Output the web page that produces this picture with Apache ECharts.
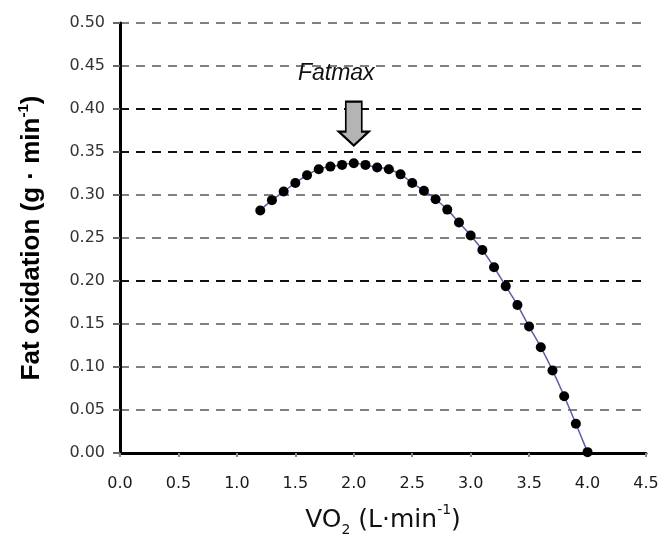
<!DOCTYPE html>
<html>
<head>
<meta charset="utf-8">
<title>Fat oxidation vs VO2</title>
<script src="https://cdn.jsdelivr.net/npm/echarts@6/dist/echarts.min.js"></script>
<style>
  html, body { margin: 0; padding: 0; background: #ffffff; }
  #chart { width: 662px; height: 542px; }
</style>
</head>
<body>
<div id="chart"></div>
<script>
// Oxygen uptake (L/min) at each measurement step
const vo2 = [1.2, 1.3, 1.4, 1.5, 1.6, 1.7, 1.8, 1.9, 2.0, 2.1, 2.2, 2.3, 2.4, 2.5, 2.6,
             2.7, 2.8, 2.9, 3.0, 3.1, 3.2, 3.3, 3.4, 3.5, 3.6, 3.7, 3.8, 3.9, 4.0];
// Fat oxidation rate (g/min) at each step
const fatOx = [0.282, 0.294, 0.304, 0.314, 0.323, 0.330, 0.333, 0.335, 0.337, 0.335,
               0.332, 0.330, 0.324, 0.314, 0.305, 0.295, 0.283, 0.268, 0.253, 0.236,
               0.216, 0.194, 0.172, 0.147, 0.123, 0.096, 0.066, 0.034, 0.001];
// Axis ranges and tick steps
const xMin = 0, xMax = 4.5, xStep = 0.5;
const yMin = 0, yMax = 0.5, yStep = 0.05;
// Fatmax annotation: arrow centre and label anchor, in data units
const fatmaxArrow = [2.0, 0.383];
const fatmaxLabel = [1.85, 0.441];
const fatmaxText = 'Fatmax';

const points = vo2.map((x, i) => [x, fatOx[i]]);

// Gridline colours alternate between grey and black (index = tick from 0.00)
const gridColors = ['#808080', '#808080', '#808080', '#808080', '#111111', '#808080',
                    '#808080', '#111111', '#111111', '#808080', '#808080'];

const chart = echarts.init(document.getElementById('chart'), null, { renderer: 'canvas' });

chart.setOption({
  animation: false,
  backgroundColor: '#ffffff',
  grid: { left: 120, right: 16, top: 23, bottom: 88, containLabel: false },
  xAxis: {
    type: 'value',
    min: xMin, max: xMax, interval: xStep,
    axisLine: { show: true, onZero: false, lineStyle: { color: '#000', width: 3 } },
    axisTick: { show: true, length: 4, lineStyle: { color: '#888', width: 2 } },
    splitLine: { show: false },
    axisLabel: {
      margin: 23,
      color: '#1a1a1a',
      fontFamily: 'DejaVu Sans',
      fontSize: 16,
      formatter: v => v.toFixed(1)
    },
    name: '{t|VO}{sub|2}{t| (L·min}{sup|-1}{t|)}',
    nameLocation: 'middle',
    nameGap: 50,
    nameTextStyle: {
      rich: {
        t: { fontFamily: 'DejaVu Sans', fontSize: 25, color: '#111', lineHeight: 34, verticalAlign: 'middle' },
        sub: { fontFamily: 'DejaVu Sans', fontSize: 14, color: '#111', verticalAlign: 'bottom', lineHeight: 34 },
        sup: { fontFamily: 'DejaVu Sans', fontSize: 14, color: '#111', verticalAlign: 'top', lineHeight: 34 }
      }
    }
  },
  yAxis: {
    type: 'value',
    min: yMin, max: yMax, interval: yStep,
    axisLine: { show: true, onZero: false, lineStyle: { color: '#000', width: 3 } },
    axisTick: { show: true, length: 7, lineStyle: { color: '#666', width: 2 } },
    splitLine: {
      show: true,
      lineStyle: { color: gridColors, width: 2, type: [9, 7] }
    },
    axisLabel: {
      margin: 15,
      color: '#333',
      fontFamily: 'DejaVu Sans',
      fontSize: 16,
      formatter: v => v.toFixed(2)
    },
    name: '{t|Fat oxidation (g · min}{sup|-1}{t|)}',
    nameLocation: 'middle',
    nameGap: 72,
    nameRotate: 90,
    nameTextStyle: {
      rich: {
        t: { fontFamily: 'Liberation Sans', fontWeight: 'bold', fontSize: 26, color: '#000', lineHeight: 32, verticalAlign: 'middle' },
        sup: { fontFamily: 'Liberation Sans', fontWeight: 'bold', fontSize: 15, color: '#000', lineHeight: 32, verticalAlign: 'top' }
      }
    }
  },
  series: [{
    type: 'line',
    data: points,
    smooth: true,
    symbol: 'circle',
    symbolSize: 10,
    showSymbol: true,
    itemStyle: { color: '#000' },
    lineStyle: { color: '#5b5ea6', width: 1.5 },
    z: 3,
    markPoint: {
      silent: true,
      data: [
        {
          coord: fatmaxArrow,
          symbol: 'path://M7 0 L23 0 L23 30 L30 30 L15 44 L0 30 L7 30 Z',
          symbolSize: [30, 44],
          itemStyle: { color: '#b4b4b4', borderColor: '#000', borderWidth: 2 },
          label: { show: false }
        },
        {
          coord: fatmaxLabel,
          symbol: 'circle',
          symbolSize: 1,
          itemStyle: { color: 'rgba(0,0,0,0)' },
          label: {
            show: true,
            position: 'inside',
            formatter: fatmaxText,
            fontFamily: 'Liberation Sans',
            fontStyle: 'italic',
            fontSize: 23,
            color: '#111'
          }
        }
      ]
    }
  }]
});
</script>
</body>
</html>
